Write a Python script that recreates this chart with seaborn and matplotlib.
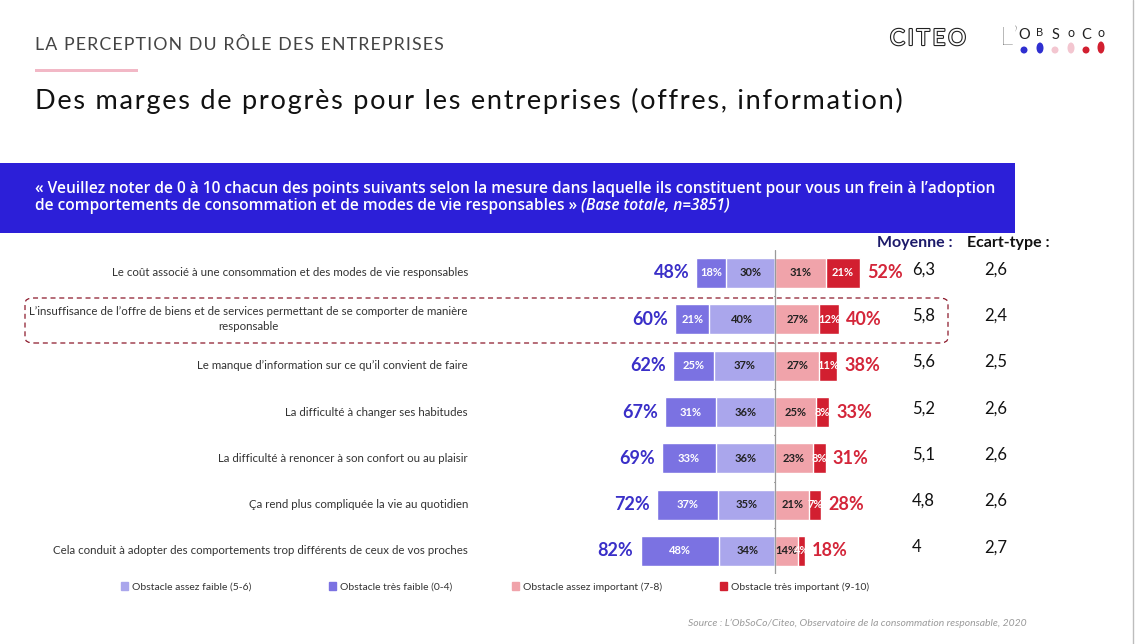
"""Diverging stacked bars: perception of obstacles (ObSoCo/Citeo slide)."""

import matplotlib
matplotlib.use("Agg")
import matplotlib.pyplot as plt
import matplotlib.transforms as mtransforms
import matplotlib.patheffects as pe
from matplotlib.patches import Rectangle, FancyBboxPatch, Ellipse
import pandas as pd
import seaborn as sns

# ---- data -------------------------------------------------------------
labels = [
    "Le coût associé à une consommation et des modes de vie responsables",
    "L’insuffisance de l’offre de biens et de services permettant de se comporter de manière\nresponsable",
    "Le manque d’information sur ce qu’il convient de faire",
    "La difficulté à changer ses habitudes",
    "La difficulté à renoncer à son confort ou au plaisir",
    "Ça rend plus compliquée la vie au quotidien",
    "Cela conduit à adopter des comportements trop différents de ceux de vos proches",
]
tres_faible = [18, 21, 25, 31, 33, 37, 48]      # 0-4
assez_faible = [30, 40, 37, 36, 36, 35, 34]     # 5-6
assez_important = [31, 27, 27, 25, 23, 21, 14]  # 7-8
tres_important = [21, 12, 11, 8, 8, 7, 4]       # 9-10
total_faible = [48, 60, 62, 67, 69, 72, 82]
total_important = [52, 40, 38, 33, 31, 28, 18]
moyenne = ["6,3", "5,8", "5,6", "5,2", "5,1", "4,8", "4"]
ecart_type = ["2,6", "2,4", "2,5", "2,6", "2,6", "2,6", "2,7"]

legend_labels = [
    "Obstacle assez faible (5-6)",
    "Obstacle très faible (0-4)",
    "Obstacle assez important (7-8)",
    "Obstacle très important (9-10)",
]

C_LIGHT_PURPLE = "#aaa6ec"
C_PURPLE = "#7b72e2"
C_PINK = "#f0a3aa"
C_RED = "#d21f30"
C_BLUE_TXT = "#3a2fc8"
C_RED_TXT = "#d4263a"
C_BANNER = "#2c1fd8"

sns.set_theme(style="white")
plt.rcParams["font.family"] = ["Lato", "DejaVu Sans"]

W, H = 1135, 644
fig = plt.figure(figsize=(W / 100, H / 100), dpi=100)


def fx(x):
    return x / W


def fy(y):
    return 1 - y / H


def spaced(s, sp="\u200a"):
    # crude letter spacing with hair spaces
    return sp.join(s)


# ---- bars axis ----------------------------------------------------------
center_px = 775
px_per_pct = 1.64
row_top, row_bot = 273, 551
step = (row_bot - row_top) / 6
ax = fig.add_axes([0, fy(row_bot + step / 2), 1, (row_bot - row_top + step) / H])
ax.set_facecolor("none")

df = pd.DataFrame({
    "label": labels,
    "tf": tres_faible, "af": assez_faible,
    "ai": assez_important, "ti": tres_important,
})
bw = 30 / step
sns.barplot(x=-(df["tf"] + df["af"]), y=df["label"], orient="h", color=C_PURPLE,
            width=bw, errorbar=None, ax=ax, saturation=1)
sns.barplot(x=-df["af"], y=df["label"], orient="h", color=C_LIGHT_PURPLE,
            width=bw, errorbar=None, ax=ax, saturation=1)
sns.barplot(x=df["ai"] + df["ti"], y=df["label"], orient="h", color=C_RED,
            width=bw, errorbar=None, ax=ax, saturation=1)
sns.barplot(x=df["ai"], y=df["label"], orient="h", color=C_PINK,
            width=bw, errorbar=None, ax=ax, saturation=1)

ax.set_xlim(-center_px / px_per_pct, (W - center_px) / px_per_pct)
ax.set_ylim(6.5, -0.5)
ax.set_xlabel("")
ax.set_ylabel("")
ax.set_xticks([])
ax.set_yticks([])
for s in ax.spines.values():
    s.set_visible(False)
ax.axvline(0, color="#9a9a9a", lw=0.9, zorder=5)
for i in range(6):
    ax.plot([-0.9, 0], [i + 0.5, i + 0.5], color="#9a9a9a", lw=0.8, zorder=5)

blend = mtransforms.blended_transform_factory(fig.transFigure, ax.transData)

for i in range(len(labels)):
    tf, af, ai, ti = tres_faible[i], assez_faible[i], assez_important[i], tres_important[i]
    kw = dict(ha="center", va="center", fontsize=8, fontweight="bold", zorder=6)
    ax.text(-(af + tf / 2), i, f"{tf}%", color="white", **kw)
    ax.text(-af / 2, i, f"{af}%", color="#222222", **kw)
    ax.text(ai / 2, i, f"{ai}%", color="#222222", **kw)
    ax.text(ai + ti / 2, i, f"{ti}%", color="white", **kw)
    ax.text(-(tf + af) - 4.3, i, f"{total_faible[i]}%", ha="right", va="center",
            fontsize=13, fontweight="bold", color=C_BLUE_TXT)
    ax.text(ai + ti + 4.3, i, f"{total_important[i]}%", ha="left", va="center",
            fontsize=13, fontweight="bold", color=C_RED_TXT)
    ax.text(fx(912), i - 0.08, moyenne[i], ha="left", va="center", fontsize=12,
            color="#111111", transform=blend)
    ax.text(fx(984), i - 0.08, ecart_type[i], ha="left", va="center", fontsize=12,
            color="#111111", transform=blend)
    ax.text(fx(468), i, labels[i], ha="right", va="center", multialignment="center",
            fontsize=8.25, color="#333333", transform=blend, linespacing=1.45)

# highlighted row
fig.patches.append(FancyBboxPatch(
    (fx(25), fy(343)), fx(948) - fx(25), fy(298) - fy(343),
    boxstyle="round,pad=0,rounding_size=0.008", transform=fig.transFigure,
    fill=False, ec="#8c1a2c", lw=0.9, ls=(0, (4, 3)), zorder=10))

# column headers
fig.text(fx(877), fy(243), "Moyenne :", ha="left", va="center", fontsize=11.5,
         fontweight="bold", color="#1c1a6a")
fig.text(fx(967), fy(243), "Ecart-type :", ha="left", va="center", fontsize=11.5,
         fontweight="bold", color="#111111")

# ---- header ------------------------------------------------------------
fig.text(fx(35), fy(45), spaced("LA PERCEPTION DU RÔLE DES ENTREPRISES"), ha="left",
         va="center", fontsize=12.8, color="#444444")
fig.patches.append(Rectangle((fx(35), fy(72)), fx(103), 3 / H,
                             transform=fig.transFigure, color="#f2b8c6", lw=0))
fig.text(fx(35), fy(101),
         spaced("Des marges de progrès pour les entreprises (offres, information)"),
         ha="left", va="center", fontsize=19.5, color="#111111")

# logos
fig.text(fx(890), fy(39), spaced("CITEO", "\u2009"), ha="left", va="center",
         fontsize=16, color="white",
         path_effects=[pe.withStroke(linewidth=1.6, foreground="#222222")])
fig.text(fx(1000), fy(38), "L’", ha="left", va="center", fontsize=19,
         color="#222222", fontweight="light")
logo = [("O", 1024, 35, 10.5, "#2f2fd0", 7), ("B", 1040, 32, 8, "#2f2fd0", 11),
        ("S", 1055, 35, 10.5, "#f3c6d0", 7), ("o", 1071, 33, 9, "#f3c6d0", 11),
        ("C", 1086, 35, 10.5, "#d21f30", 7), ("o", 1101, 33, 9, "#d21f30", 12)]
for ch, x, y, fs, c, hh in logo:
    fig.text(fx(x), fy(y), ch, ha="center", va="center", fontsize=fs, color="#222222")
    fig.patches.append(Ellipse((fx(x), fy(50 - (hh - 7) / 2)), 7 / W, hh / H,
                               transform=fig.transFigure, color=c, lw=0))

# banner
fig.patches.append(Rectangle((0, fy(233)), fx(1015), (233 - 163) / H,
                             transform=fig.transFigure, color=C_BANNER, lw=0))
bkw = dict(ha="left", va="center", fontsize=11.2, fontweight="semibold",
           color="white", family=["Open Sans", "DejaVu Sans"])
fig.text(fx(35), fy(189),
         "« Veuillez noter de 0 à 10 chacun des points suivants selon la mesure dans laquelle "
         "ils constituent pour vous un frein à l’adoption", **bkw)
t2 = fig.text(fx(35), fy(206),
              "de comportements de consommation et de modes de vie responsables » ", **bkw)
fig.canvas.draw()
bb = t2.get_window_extent()
fig.text(bb.x1 / W, fy(206), "(Base totale, n=3851)", fontstyle="italic", **bkw)

# legend: one entry per position, as on the slide
colors = (C_LIGHT_PURPLE, C_PURPLE, C_PINK, C_RED)
for lab, c, x in zip(legend_labels, colors, (121, 329, 512, 720)):
    fig.legend([Rectangle((0, 0), 1, 1, color=c)], [lab], loc="center left",
               bbox_to_anchor=(fx(x), fy(587)), frameon=False, fontsize=7.5,
               handlelength=0.7, handleheight=0.7, handletextpad=0.4,
               borderpad=0, borderaxespad=0, labelcolor="#333333")

# source
fig.text(fx(1027), fy(623),
         "Source : L’ObSoCo/Citeo, Observatoire de la consommation responsable, 2020",
         ha="right", va="center", fontsize=7.5, fontstyle="italic", color="#9a9a9a")

# slide border
fig.add_artist(plt.Line2D([fx(1133), fx(1133)], [0, 1], transform=fig.transFigure,
                          color="#bdbdbd", lw=1))

fig.savefig("out.png", dpi=100)
